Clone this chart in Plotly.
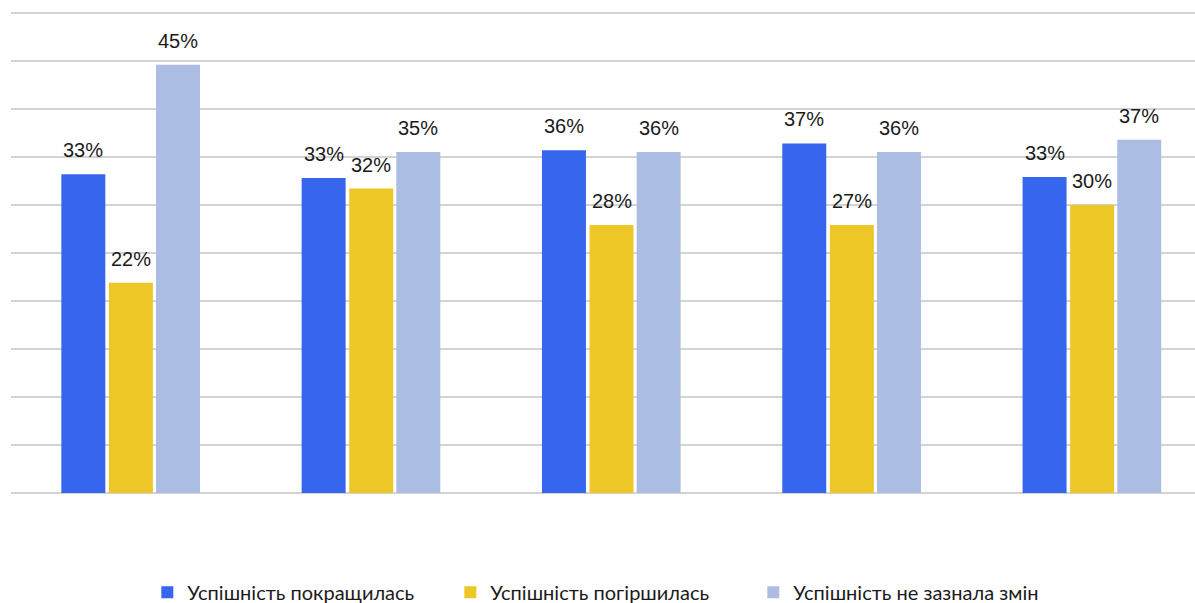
import plotly.graph_objects as go

groups = [0, 1, 2, 3, 4]
series_names = ["Успішність покращилась", "Успішність погіршилась", "Успішність не зазнала змін"]
improved = [33.2, 32.8, 35.7, 36.4, 32.9]
worsened = [21.9, 31.7, 27.9, 27.9, 30.0]
unchanged = [44.6, 35.5, 35.5, 35.5, 36.8]
improved_labels = ["33%", "33%", "36%", "37%", "33%"]
worsened_labels = ["22%", "32%", "28%", "27%", "30%"]
unchanged_labels = ["45%", "35%", "36%", "36%", "37%"]
colors = ["#3766EE", "#ECC726", "#ABBDE3"]

series = [improved, worsened, unchanged]
labels = [improved_labels, worsened_labels, unchanged_labels]
offsets = [-0.198, 0.0, 0.196]
bar_w = 0.183

fig = go.Figure()
annotations = []
for name, vals, labs, col, off in zip(series_names, series, labels, colors, offsets):
    xs = [g + off for g in groups]
    fig.add_trace(go.Bar(
        x=xs, y=vals, width=bar_w, name=name,
        marker=dict(color=col, line=dict(width=0)),
        hoverinfo="skip",
    ))
    for x, v, t in zip(xs, vals, labs):
        annotations.append(dict(
            x=x, y=v, xref="x", yref="y", text=t, showarrow=False,
            yanchor="bottom", yshift=11,
            font=dict(family="Liberation Sans, Arial, sans-serif", size=20, color="#1a1a1a"),
        ))

fig.update_layout(
    width=1195, height=603,
    margin=dict(l=11, r=0, t=10, b=110),
    paper_bgcolor="white", plot_bgcolor="white",
    barmode="overlay",
    showlegend=True,
    legend=dict(
        orientation="h", x=0.499, xanchor="center",
        yref="container", y=0.018, yanchor="middle",
        font=dict(family="Lato, Noto Sans, sans-serif", size=20, color="#1a1a1a"),
        entrywidth=258, entrywidthmode="pixels",
        traceorder="normal",
    ),
    annotations=annotations,
    xaxis=dict(range=[-0.499, 4.428], showticklabels=False, showgrid=False,
               zeroline=False, showline=False, ticks=""),
    yaxis=dict(range=[0, 50.3], tick0=0, dtick=5, showticklabels=False, showgrid=True,
               gridcolor="#d3d3d3", gridwidth=1.5, zeroline=True, zerolinecolor="#d3d3d3",
               zerolinewidth=1.5, showline=False, ticks=""),
)

fig.write_html("out.html", config={"displayModeBar": False},
               post_script="document.body.style.margin='0';document.body.style.overflow='hidden';")
